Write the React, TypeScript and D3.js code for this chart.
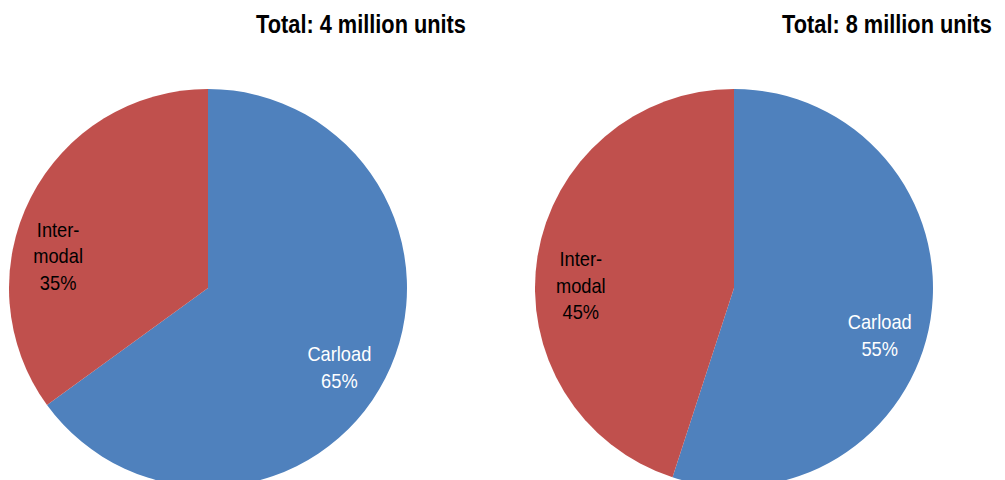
import React from "react";
import * as d3 from "d3";

// slices, same order for both pies
const categories = ["Carload", "Intermodal"];
const labelLines = [["Carload"], ["Inter-", "modal"]];
const leftValues = [65, 35];
const rightValues = [55, 45];
const titles = ["Total: 4 million units", "Total: 8 million units"];

const colors = ["#4F81BD", "#C0504D"];
const textColors = ["#FFFFFF", "#000000"];

const W = 1005;
const H = 480;
const R = 199;
// no narrow font installed, so squeeze Liberation Sans horizontally
const FONT = "'Liberation Sans', Arial, sans-serif";
const NARROW = 0.87;

// Excel's "best fit" pulls labels a little off the slice middle (degrees)
const labelShift = [
  [4, -15],
  [9, -8],
];

const Pie = ({ cx, cy, values, title, shift }) => {
  const pie = d3.pie<number>().sort(null).value((d) => d);
  const arcs = pie(values);
  const arc = d3.arc<any>().innerRadius(0).outerRadius(R);
  const labelR = R * 0.77;

  return (
    <g transform={`translate(${cx},${cy})`}>
      {arcs.map((a, i) => (
        <path key={categories[i]} d={arc(a) as string} fill={colors[i]} />
      ))}
      {arcs.map((a, i) => {
        const mid = (a.startAngle + a.endAngle) / 2 + (shift[i] * Math.PI) / 180;
        const x = Math.sin(mid) * labelR;
        const y = -Math.cos(mid) * labelR;
        const lines = [...labelLines[i], `${values[i]}%`];
        const lh = 26.5;
        const top = y - ((lines.length - 1) * lh) / 2;
        return (
          <g key={"l" + i} transform={`translate(${x},0) scale(${NARROW},1)`}>
            <text textAnchor="middle" fontSize={21} fontFamily={FONT} fill={textColors[i]}>
              {lines.map((t, j) => (
                <tspan key={j} x={0} y={top + j * lh} dy="0.35em">
                  {t}
                </tspan>
              ))}
            </text>
          </g>
        );
      })}
      <g transform={`translate(153,-255) scale(${NARROW},1)`}>
        <text
          textAnchor="middle"
          fontSize={25}
          fontWeight="bold"
          fontFamily={FONT}
          fill="#000"
        >
          {title}
        </text>
      </g>
    </g>
  );
};

export default function App() {
  return (
    <svg
      width={W}
      height={H}
      style={{ position: "fixed", top: 0, left: 0, background: "#fff" }}
    >
      <Pie cx={208} cy={288} values={leftValues} title={titles[0]} shift={labelShift[0]} />
      <Pie cx={734} cy={288} values={rightValues} title={titles[1]} shift={labelShift[1]} />
    </svg>
  );
}
